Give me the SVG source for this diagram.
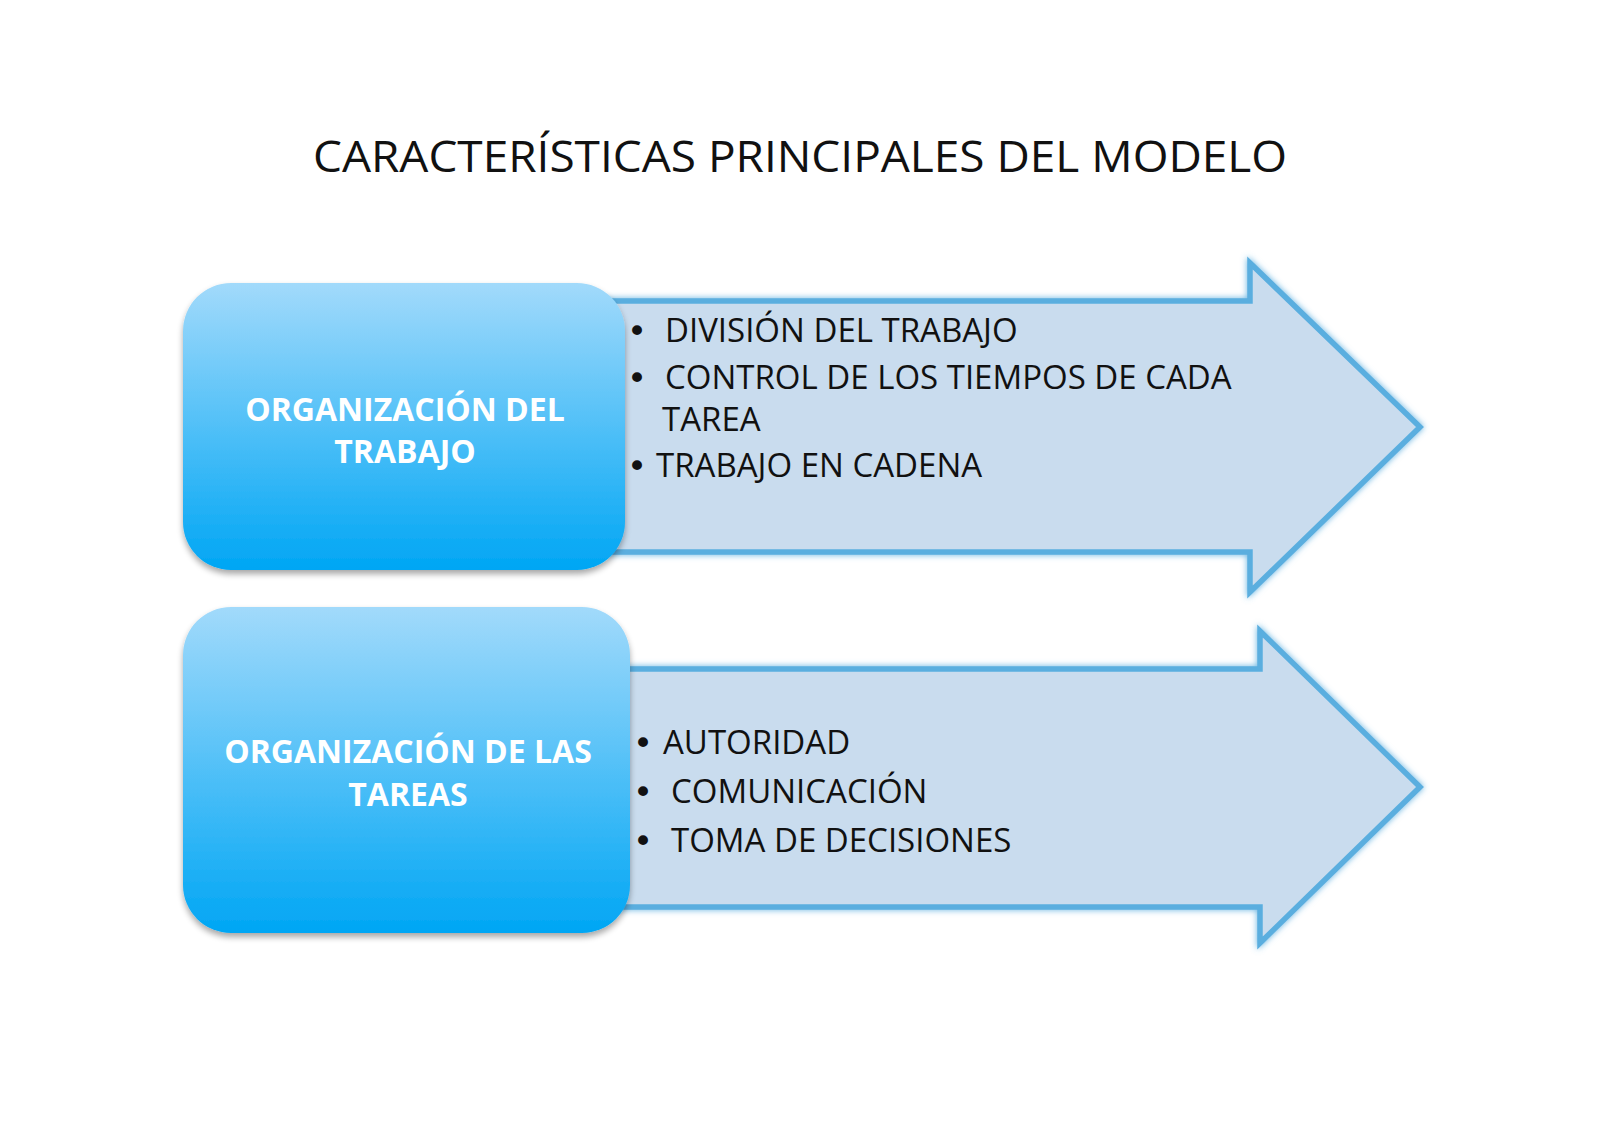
<svg xmlns="http://www.w3.org/2000/svg" width="1600" height="1131" viewBox="0 0 1600 1131">
<style>
.title{font-family:"Open Sans","Liberation Sans",sans-serif;font-size:44px;fill:#111}
.box{fill:url(#boxg);filter:url(#shadow)}
.boxt{font-family:"Open Sans","Liberation Sans",sans-serif;font-weight:bold;font-size:32px;fill:#fff;text-anchor:middle}
.arrow{fill:#C9DCEE;stroke:#5AAEDF;stroke-width:5.5;stroke-linejoin:miter;filter:url(#glow)}
.item{font-family:"Open Sans","Liberation Sans",sans-serif;font-size:33px;fill:#111}
.bul{font-family:"DejaVu Sans",sans-serif;font-size:34px;fill:#111}
</style>
<defs>
<linearGradient id="boxg" x1="0" y1="0" x2="0" y2="1">
<stop offset="0" stop-color="#A2DAFB"/>
<stop offset="1" stop-color="#00A6F4"/>
</linearGradient>
<filter id="shadow" x="-10%" y="-10%" width="120%" height="125%">
<feGaussianBlur in="SourceAlpha" stdDeviation="3"/>
<feOffset dx="0" dy="4" result="b"/>
<feComponentTransfer><feFuncA type="linear" slope="0.35"/></feComponentTransfer>
<feMerge><feMergeNode/><feMergeNode in="SourceGraphic"/></feMerge>
</filter>
<filter id="glow" x="-10%" y="-10%" width="120%" height="120%">
<feGaussianBlur in="SourceGraphic" stdDeviation="3" result="g"/>
<feMerge><feMergeNode in="g"/><feMergeNode in="SourceGraphic"/></feMerge>
</filter>
</defs>
<rect width="1600" height="1131" fill="#fff"/>
<text class="title" x="800" y="172" text-anchor="middle" textLength="974" lengthAdjust="spacingAndGlyphs">CARACTERÍSTICAS PRINCIPALES DEL MODELO</text>
<g id="connectors">
<polygon id="arrow1" class="arrow" points="600,301 1250,301 1250,263 1420,427 1250,592 1250,552 600,552"/>
<polygon id="arrow2" class="arrow" points="600,669 1260,669 1260,631 1420,787 1260,943 1260,907 600,907"/>
</g>
<g id="node1">
<rect class="box" x="183" y="283" width="442" height="287" rx="48"/>
<text class="boxt" x="405" y="421">ORGANIZACIÓN DEL</text>
<text class="boxt" x="405" y="463">TRABAJO</text>
</g>
<g id="node2">
<rect class="box" x="183" y="607" width="447" height="326" rx="48"/>
<text class="boxt" x="408" y="763">ORGANIZACIÓN DE LAS</text>
<text class="boxt" x="408" y="806">TAREAS</text>
</g>
<g id="items1">
<text class="bul" x="627" y="343">•</text><text class="item" x="665" y="342">DIVISIÓN DEL TRABAJO</text>
<text class="bul" x="627" y="390">•</text><text class="item" x="665" y="389">CONTROL DE LOS TIEMPOS DE CADA</text>
<text class="item" x="662" y="431">TAREA</text>
<text class="bul" x="627" y="478">•</text><text class="item" x="656" y="477">TRABAJO EN CADENA</text>
</g>
<g id="items2">
<text class="bul" x="633" y="755">•</text><text class="item" x="663" y="754">AUTORIDAD</text>
<text class="bul" x="633" y="804">•</text><text class="item" x="671" y="803">COMUNICACIÓN</text>
<text class="bul" x="633" y="853">•</text><text class="item" x="671" y="852">TOMA DE DECISIONES</text>
</g>
</svg>
